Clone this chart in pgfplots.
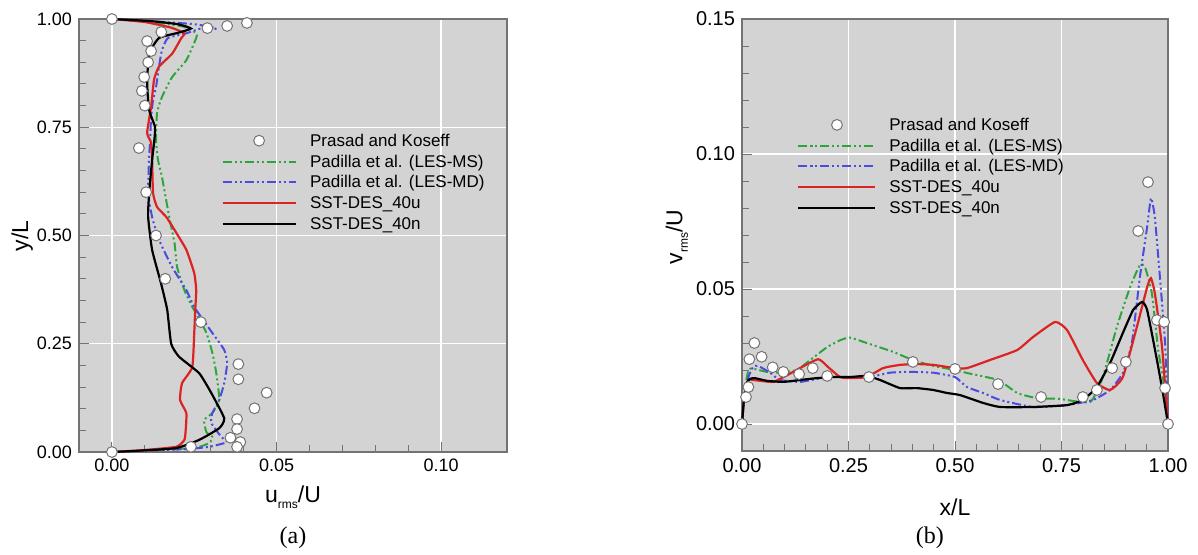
\documentclass[border=0pt]{standalone}
\usepackage{fontspec}
\setmainfont{Liberation Sans}
\newfontfamily\capfont{Liberation Serif}
\usepackage{pgfplots}
\pgfplotsset{compat=1.18}
\definecolor{bg}{RGB}{211,211,211}
\definecolor{cgreen}{RGB}{45,165,60}
\definecolor{cblue}{RGB}{75,75,225}
\definecolor{cred}{RGB}{220,35,35}
\definecolor{frm}{RGB}{115,115,115}

\pgfplotsset{
  mystyle/.style={
    scale only axis,
    axis background/.style={fill=bg},
    axis line style={frm, line width=0.6pt},
    tick style={frm, line width=0.5pt},
    major tick length=5pt, minor tick length=3.5pt,
    tick align=inside,
    xtick pos=left, ytick pos=left,
    xmajorgrids, ymajorgrids,
    major grid style={white, line width=0.7pt},
    xticklabel style={/pgf/number format/.cd, fixed, fixed zerofill, precision=2, assume math mode=true},
    yticklabel style={/pgf/number format/.cd, fixed, fixed zerofill, precision=2, assume math mode=true},
    legend cell align=left,
    legend image code/.code={\draw[mark repeat=2,mark phase=2,##1] plot coordinates {(0pt,0pt) (\leglen/2,0pt) (\leglen,0pt)};},
    clip=false,
  },
  exp/.style={only marks, mark=*, mark size=2.7pt, mark options={fill=white, draw=black!55, line width=0.5pt}},
  ms/.style={cgreen, line width=1pt, smooth, tension=0.3, dash pattern=on 4.5pt off 1.5pt on 1pt off 1.5pt on 1pt off 1.5pt},
  md/.style={cblue, line width=1pt, smooth, tension=0.3, dash pattern=on 4.5pt off 1.5pt on 1pt off 1.5pt on 1pt off 1.5pt},
  su/.style={cred, line width=1.1pt, smooth, tension=0.3},
  sn/.style={black, line width=1.1pt, smooth, tension=0.3},
}
\newlength{\leglen}

\begin{document}
\begin{tikzpicture}
\path[use as bounding box] (0,0) rectangle (599pt,277pt);

% ---------------- (a) ----------------
\setlength{\leglen}{36.5pt}
\begin{axis}[mystyle,
  at={(39.5pt,51pt)}, anchor=south west,
  width=214pt, height=216.5pt,
  xmin=-0.01, xmax=0.12, ymin=0, ymax=1,
  xtick={0,0.05,0.1}, ytick={0,0.25,0.5,0.75,1},
  minor x tick num=4, minor y tick num=4,
  tick label style={font=\fontsize{9}{10}\selectfont},
  xlabel={u\raisebox{-0.45ex}{\fontsize{6}{6}\selectfont rms}/U},
  ylabel={y/L},
  label style={font=\fontsize{11.5}{12}\selectfont},
  xlabel style={at={(axis description cs:0.5,-0.104)}, anchor=center},
  ylabel style={at={(axis description cs:-0.133,0.499)}, anchor=center},
  legend style={draw=none, fill=none, at={(axis description cs:0.332,0.746)}, anchor=north west,
    font=\fontsize{8.5}{10}\selectfont, row sep=-0.85pt, column sep=6.3pt, inner sep=0pt,
    nodes={inner sep=0.4pt, text height=0.8em, text depth=0.25em}},
]
\addlegendimage{exp}\addlegendentry{Prasad and Koseff}
\addlegendimage{ms}\addlegendentry{Padilla et al. (LES-MS)}
\addlegendimage{md}\addlegendentry{Padilla et al. (LES-MD)}
\addlegendimage{su}\addlegendentry{SST-DES\_40u}
\addlegendimage{sn}\addlegendentry{SST-DES\_40n}

\addplot[ms, forget plot] coordinates {(0,1) (0.012,0.993) (0.022,0.982) (0.0256,0.967) (0.0256,0.956) (0.0226,0.905) (0.0183,0.866) (0.0152,0.82) (0.0137,0.783) (0.0134,0.72) (0.014,0.674) (0.0152,0.635) (0.0174,0.543) (0.019,0.483) (0.0198,0.427) (0.022,0.374) (0.0244,0.335) (0.0256,0.32) (0.0287,0.275) (0.0305,0.229) (0.0317,0.182) (0.0326,0.12) (0.0305,0.09) (0.028,0.074) (0.0287,0.046) (0.0305,0.035) (0.0296,0.021) (0.0244,0.009) (0,0)};
\addplot[md, forget plot] coordinates {(0,1) (0.014,0.994) (0.025,0.988) (0.0317,0.979) (0.029,0.972) (0.027,0.978) (0.0226,0.967) (0.017,0.956) (0.0152,0.928) (0.0143,0.89) (0.0134,0.843) (0.0125,0.813) (0.0119,0.774) (0.0116,0.72) (0.0113,0.681) (0.011,0.598) (0.0122,0.543) (0.0143,0.49) (0.0183,0.427) (0.0226,0.374) (0.025,0.335) (0.0305,0.275) (0.0341,0.236) (0.035,0.205) (0.0341,0.159) (0.0326,0.12) (0.0305,0.09) (0.0302,0.067) (0.0332,0.035) (0.035,0.023) (0.0296,0.012) (0.0226,0.007) (0,0)};
\addplot[su, forget plot] coordinates {(0,1) (0.01,0.993) (0.018,0.98) (0.022,0.967) (0.021,0.955) (0.0183,0.92) (0.0143,0.89) (0.0128,0.86) (0.0119,0.797) (0.0107,0.737) (0.0119,0.714) (0.0122,0.674) (0.0125,0.598) (0.0137,0.566) (0.0165,0.543) (0.019,0.513) (0.0226,0.467) (0.025,0.413) (0.0256,0.374) (0.0253,0.328) (0.025,0.275) (0.0244,0.196) (0.0213,0.159) (0.0207,0.12) (0.0226,0.09) (0.0224,0.05) (0.022,0.028) (0.0195,0.012) (0.009,0.004) (0,0)};
\addplot[sn, forget plot] coordinates {(0,1) (0.012,0.995) (0.02,0.988) (0.024,0.978) (0.02,0.968) (0.0143,0.956) (0.0113,0.92) (0.0107,0.852) (0.0113,0.79) (0.0131,0.75) (0.0128,0.714) (0.0122,0.674) (0.0113,0.598) (0.011,0.543) (0.0122,0.467) (0.0149,0.39) (0.0168,0.328) (0.018,0.25) (0.0204,0.22) (0.0265,0.182) (0.0302,0.136) (0.0341,0.078) (0.0326,0.055) (0.0265,0.028) (0.0195,0.009) (0.008,0.003) (0,0)};
\addplot[exp, forget plot] coordinates {(0,1) (0.035,0.984) (0.041,0.991) (0.029,0.979) (0.015,0.97) (0.0107,0.949) (0.0119,0.926) (0.011,0.90) (0.0098,0.866) (0.0091,0.834) (0.010,0.80) (0.0082,0.702) (0.0104,0.60) (0.0134,0.50) (0.0162,0.40) (0.027,0.30) (0.0384,0.203) (0.0384,0.168) (0.047,0.137) (0.0433,0.101) (0.038,0.076) (0.038,0.053) (0.036,0.033) (0.039,0.023) (0.038,0.012) (0.024,0.012) (0,0)};
\node[font=\capfont\fontsize{12}{14}\selectfont] at (axis description cs:0.5,-0.199) {(a)};
\end{axis}

% ---------------- (b) ----------------
\begin{axis}[mystyle,
  at={(371pt,51.5pt)}, anchor=south west,
  width=213pt, height=216pt,
  xmin=0, xmax=1, ymin=-0.01, ymax=0.15,
  xtick={0,0.25,0.5,0.75,1}, ytick={0,0.05,0.1,0.15},
  minor x tick num=4, minor y tick num=4,
  tick label style={font=\fontsize{10}{11}\selectfont},
  xlabel={x/L},
  ylabel={v\raisebox{-0.45ex}{\fontsize{6}{6}\selectfont rms}/U},
  label style={font=\fontsize{11.5}{12}\selectfont},
  xlabel style={at={(axis description cs:0.5,-0.13)}, anchor=center},
  ylabel style={at={(axis description cs:-0.153,0.495)}, anchor=center},
  legend style={draw=none, fill=none, at={(axis description cs:0.129,0.782)}, anchor=north west,
    font=\fontsize{8.5}{10}\selectfont, row sep=-0.95pt, column sep=6pt, inner sep=0pt,
    nodes={inner sep=0.4pt, text height=0.8em, text depth=0.25em}},
]
\setlength{\leglen}{38.5pt}
\addlegendimage{exp}\addlegendentry{Prasad and Koseff}
\addlegendimage{ms}\addlegendentry{Padilla et al. (LES-MS)}
\addlegendimage{md}\addlegendentry{Padilla et al. (LES-MD)}
\addlegendimage{su}\addlegendentry{SST-DES\_40u}
\addlegendimage{sn}\addlegendentry{SST-DES\_40n}

\addplot[ms, forget plot] coordinates {(0,0) (0.006,0.012) (0.015,0.02) (0.026,0.0205) (0.058,0.0193) (0.089,0.019) (0.129,0.02) (0.16,0.0237) (0.2,0.0285) (0.23,0.031) (0.253,0.032) (0.293,0.03) (0.355,0.0267) (0.401,0.0237) (0.449,0.0215) (0.5,0.02) (0.528,0.0189) (0.601,0.0163) (0.646,0.0115) (0.692,0.0096) (0.746,0.0093) (0.817,0.0081) (0.847,0.0174) (0.88,0.036) (0.911,0.0507) (0.934,0.0589) (0.946,0.0581) (0.962,0.0485) (0.977,0.0274) (0.988,0.0174) (1.0,0)};
\addplot[md, forget plot] coordinates {(0,0) (0.006,0.011) (0.015,0.0174) (0.026,0.0211) (0.038,0.0215) (0.066,0.019) (0.089,0.0163) (0.136,0.0156) (0.176,0.0167) (0.214,0.0174) (0.253,0.0174) (0.3,0.0174) (0.347,0.019) (0.394,0.0193) (0.449,0.019) (0.5,0.0174) (0.528,0.0137) (0.566,0.0115) (0.606,0.0089) (0.683,0.0063) (0.763,0.007) (0.824,0.0089) (0.864,0.0126) (0.894,0.0189) (0.915,0.03) (0.934,0.0544) (0.951,0.073) (0.96,0.0837) (0.969,0.0767) (0.981,0.0544) (0.993,0.03) (1.0,0)};
\addplot[su, forget plot] coordinates {(0,0) (0.006,0.011) (0.015,0.0163) (0.026,0.0163) (0.073,0.0156) (0.105,0.018) (0.136,0.0207) (0.179,0.024) (0.202,0.0211) (0.23,0.0174) (0.253,0.017) (0.293,0.0174) (0.331,0.0207) (0.371,0.0219) (0.41,0.0222) (0.449,0.0219) (0.5,0.0207) (0.528,0.0207) (0.582,0.0237) (0.646,0.0274) (0.683,0.0322) (0.735,0.0378) (0.763,0.0348) (0.8,0.0237) (0.833,0.0152) (0.864,0.0126) (0.894,0.0174) (0.927,0.036) (0.951,0.0507) (0.96,0.054) (0.969,0.0485) (0.986,0.0285) (1.0,0)};
\addplot[sn, forget plot] coordinates {(0,0) (0.005,0.01) (0.012,0.0155) (0.019,0.0167) (0.03,0.017) (0.058,0.016) (0.097,0.0156) (0.136,0.0163) (0.176,0.017) (0.214,0.0174) (0.253,0.0174) (0.293,0.0178) (0.324,0.0163) (0.371,0.0133) (0.41,0.0133) (0.449,0.0126) (0.481,0.0115) (0.512,0.0107) (0.566,0.0078) (0.606,0.0063) (0.683,0.0063) (0.763,0.007) (0.8,0.0089) (0.833,0.0137) (0.864,0.0226) (0.894,0.0337) (0.918,0.0422) (0.939,0.0452) (0.951,0.0422) (0.974,0.0237) (0.988,0.0115) (1.0,0)};
\addplot[exp, forget plot] coordinates {(0,0) (0.0094,0.010) (0.015,0.0137) (0.0172,0.024) (0.029,0.030) (0.046,0.0249) (0.072,0.021) (0.097,0.0193) (0.134,0.0185) (0.166,0.0207) (0.2,0.0178) (0.298,0.0174) (0.401,0.023) (0.5,0.0204) (0.601,0.0148) (0.702,0.010) (0.8,0.010) (0.833,0.0126) (0.869,0.0207) (0.901,0.023) (0.930,0.0715) (0.953,0.0896) (0.974,0.0385) (0.991,0.0378) (0.993,0.0133) (1.0,0)};
\node[font=\capfont\fontsize{12}{14}\selectfont] at (axis description cs:0.441,-0.201) {(b)};
\end{axis}
\end{tikzpicture}
\end{document}
